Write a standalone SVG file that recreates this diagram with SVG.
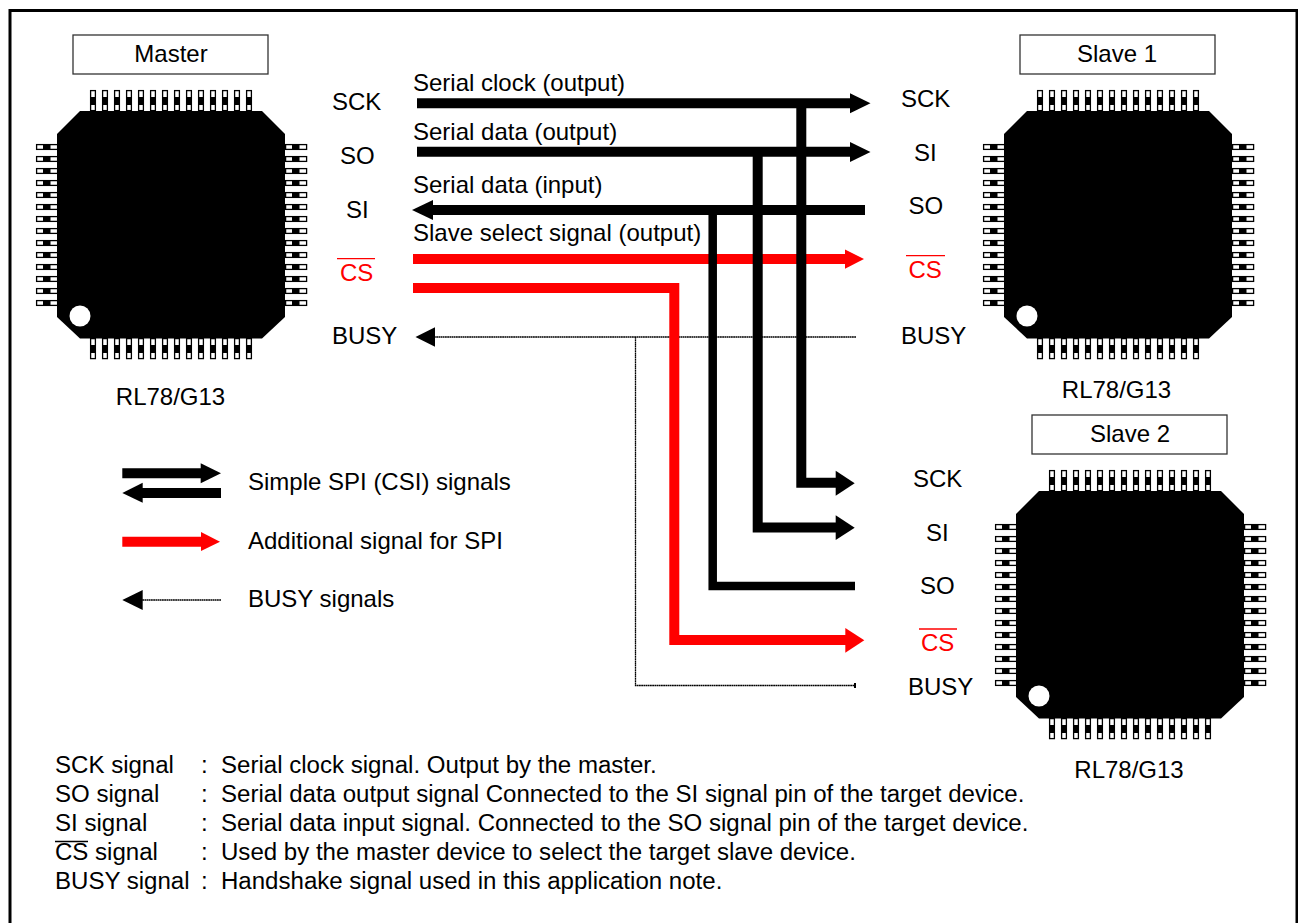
<svg xmlns="http://www.w3.org/2000/svg" width="1298" height="923" viewBox="0 0 1298 923">
<style>
text{font-family:"Liberation Sans",Arial,sans-serif;font-size:24px;fill:#000}
#notes text{font-size:24.06px}
.r{fill:#f00}
.mid{text-anchor:middle}
.box{fill:#fff;stroke:#333;stroke-width:1.3}
.w{fill:none;stroke:#000;stroke-width:10}
.t{fill:none;stroke:#000;stroke-width:8.500}
.rl{fill:none;stroke:#f00;stroke-width:10}
.b{fill:none;stroke:#000;stroke-width:1.300;stroke-dasharray:1.8 .4}
.oc{stroke:#f00;stroke-width:1.3}
.ok{stroke:#000;stroke-width:1.3}
.pin{fill:#fff;stroke:#000;stroke-width:1.3}
</style>
<defs>
<g id="pinV"><rect class="pin" x="90.6" y="90.6" width="4.800" height="20"/><rect x="90" y="97" width="6" height="8" fill="#000"/></g>
<g id="pinsTop">
<use href="#pinV"/><use href="#pinV" x="12"/><use href="#pinV" x="24"/><use href="#pinV" x="36"/><use href="#pinV" x="48"/><use href="#pinV" x="60"/><use href="#pinV" x="72"/><use href="#pinV" x="84"/><use href="#pinV" x="96"/><use href="#pinV" x="108"/><use href="#pinV" x="120"/><use href="#pinV" x="132"/><use href="#pinV" x="144"/><use href="#pinV" x="156"/>
</g>
<g id="pinH"><rect class="pin" x="36.6" y="144.600" width="21" height="4.800"/><rect x="43" y="144" width="7.500" height="6" fill="#000"/></g>
<g id="pinsLeft">
<use href="#pinH"/><use href="#pinH" y="12"/><use href="#pinH" y="24"/><use href="#pinH" y="36"/><use href="#pinH" y="48"/><use href="#pinH" y="60"/><use href="#pinH" y="72"/><use href="#pinH" y="84"/><use href="#pinH" y="96"/><use href="#pinH" y="108"/><use href="#pinH" y="120"/><use href="#pinH" y="132"/><use href="#pinH" y="144"/><use href="#pinH" y="156"/>
</g>
<g id="chip">
<use href="#pinsTop"/><use href="#pinsTop" y="248"/>
<use href="#pinsLeft"/><use href="#pinsLeft" x="249"/>
<path d="M80 111H262L285 134V317L262 338.500H80L57 317V134Z" fill="#000"/>
<circle cx="80" cy="316" r="10.5" fill="#fff"/>
</g>
</defs>
<rect x="10" y="10.500" width="1287" height="930" fill="#fff" stroke="#000" stroke-width="3"/>

<g id="node-master">
<rect class="box" x="73" y="35" width="195" height="39"/>
<text class="mid" x="171" y="62">Master</text>
<use href="#chip"/>
<text class="mid" x="170.500" y="405">RL78/G13</text>
</g>
<g id="node-slave1">
<rect class="box" x="1020" y="35" width="195" height="39"/>
<text class="mid" x="1117" y="62">Slave 1</text>
<use href="#chip" x="947"/>
<text class="mid" x="1116.500" y="398">RL78/G13</text>
</g>
<g id="node-slave2">
<rect class="box" x="1032" y="415" width="195" height="39"/>
<text class="mid" x="1130" y="442">Slave 2</text>
<use href="#chip" x="959" y="380"/>
<text class="mid" x="1129" y="778">RL78/G13</text>
</g>

<g id="connectors">
<path class="b" d="M856 337H432"/>
<path class="b" d="M635.500 337V685.500H855"/>
<rect x="854" y="683" width="2" height="5" fill="#000"/>
<path d="M415.500 337L435 327.300V346.700Z" fill="#000"/>
<path class="rl" d="M413 259H846"/>
<path d="M845 249.500L864 259L845 268.700Z" fill="#f00"/>
<path class="rl" d="M413 288H674.300V640H846"/>
<path d="M845.300 628L864.300 640.300L845.300 652.700Z" fill="#f00"/>
<path class="w" d="M417 103.300H851"/>
<path d="M850 93.300L870.500 103.300L850 113.300Z" fill="#000"/>
<path class="w" d="M417 151.700H851"/>
<path d="M850 142L870.500 152L850 162Z" fill="#000"/>
<path class="w" d="M865 210H430"/>
<path d="M433 200L412 210L433 220Z" fill="#000"/>
<path class="w" d="M801.300 103V482.700H836"/>
<path d="M835.700 470.700L854.700 483.200L835.700 495.700Z" fill="#000"/>
<path class="w" d="M757.700 152V527.500H836"/>
<path d="M835.700 515.300L854.700 527.700L835.700 540Z" fill="#000"/>
<path class="t" d="M712.700 210V586H855"/>
</g>

<g id="signal-labels">
<text x="332" y="110">SCK</text>
<text x="340" y="164">SO</text>
<text x="346" y="218">SI</text>
<text class="r" x="340" y="280.500">CS</text>
<path class="oc" d="M337 258.700H375"/>
<text x="332" y="344">BUSY</text>
<text x="901" y="106.500">SCK</text>
<text x="914" y="160.500">SI</text>
<text x="908.500" y="213.500">SO</text>
<text class="r" x="908.500" y="277.500">CS</text>
<path class="oc" d="M906 255.700H945"/>
<text x="901" y="344">BUSY</text>
<text x="913" y="486.500">SCK</text>
<text x="926" y="540.500">SI</text>
<text x="920" y="593.500">SO</text>
<text class="r" x="921" y="650.500">CS</text>
<path class="oc" d="M919 629H957"/>
<text x="908" y="695">BUSY</text>
<text x="413" y="91">Serial clock (output)</text>
<text x="413" y="140">Serial data (output)</text>
<text x="413" y="193">Serial data (input)</text>
<text x="413" y="241">Slave select signal (output)</text>
</g>

<g id="legend">
<path class="w" d="M122.300 473.300H202M221 493H140"/>
<path d="M200.700 463.300L221 473.300L200.700 483.300Z" fill="#000"/>
<path d="M142.700 482.700L122.300 492.900L142.700 502.700Z" fill="#000"/>
<path class="rl" d="M122.300 541.700H203"/>
<path d="M201 532L220 541.700L201 551Z" fill="#f00"/>
<path class="b" d="M221 600H140"/>
<path d="M122.300 600L142.700 590V610Z" fill="#000"/>
<text x="248" y="490">Simple SPI (CSI) signals</text>
<text x="248" y="549">Additional signal for SPI</text>
<text x="248" y="607">BUSY signals</text>
</g>

<g id="notes">
<text x="55" y="773">SCK signal</text><text x="201" y="773">:</text><text x="221" y="773">Serial clock signal. Output by the master.</text>
<text x="55" y="801.500">SO signal</text><text x="201" y="801.500">:</text><text x="221" y="801.500">Serial data output signal Connected to the SI signal pin of the target device.</text>
<text x="55" y="830.500">SI signal</text><text x="201" y="830.500">:</text><text x="221" y="830.500">Serial data input signal. Connected to the SO signal pin of the target device.</text>
<text x="55" y="859.500">CS signal</text><text x="201" y="859.500">:</text><text x="221" y="859.500">Used by the master device to select the target slave device.</text>
<path class="ok" d="M55 841.500H88"/>
<text x="55" y="888.500">BUSY signal</text><text x="201" y="888.500">:</text><text x="221" y="888.500">Handshake signal used in this application note.</text>
</g>
</svg>
